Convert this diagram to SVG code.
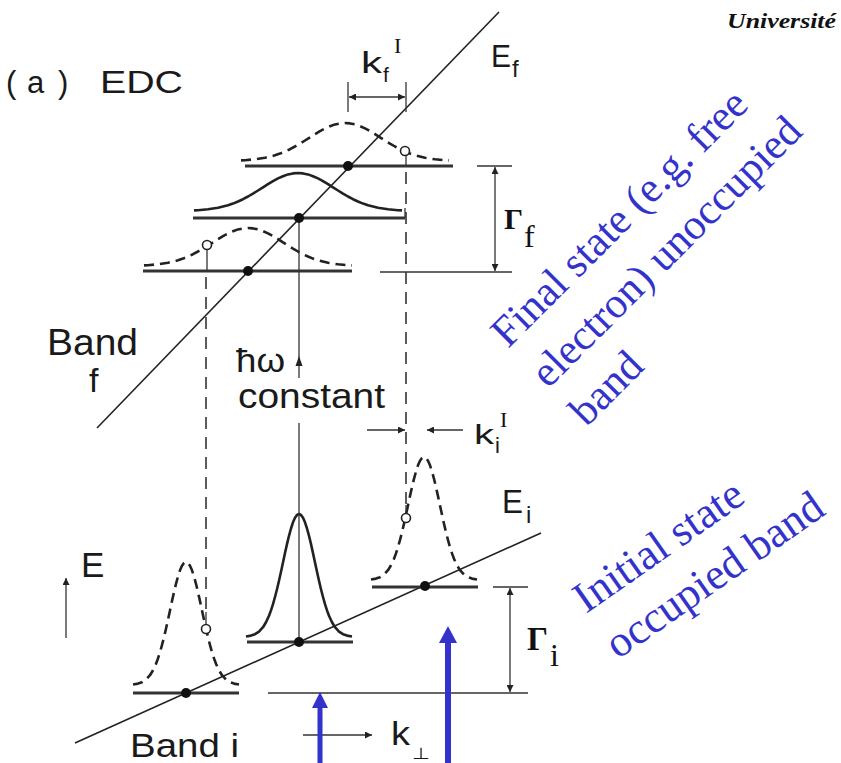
<svg xmlns="http://www.w3.org/2000/svg" width="841" height="763" viewBox="0 0 841 763">
<style>
.ln{stroke:#222;stroke-width:1.6;fill:none}
.thin{stroke:#333;stroke-width:1.3;fill:none}
.base{stroke:#333;stroke-width:3;fill:none}
.dash{stroke:#333;stroke-width:1.6;fill:none;stroke-dasharray:12 8}
.curve{stroke:#222;stroke-width:2.6;fill:none;stroke-linejoin:round}
.dc{stroke-dasharray:10 6}
.dot{fill:#111}
.hol{fill:#fff;stroke:#222;stroke-width:1.6}
.sans{font-family:"Liberation Sans",Arial,sans-serif;fill:#1a1a1a}
.serif{font-family:"Liberation Serif","Times New Roman",serif;fill:#111}
.blue{font-family:"Liberation Serif","Times New Roman",serif;fill:#3333cc}
.barrow{fill:#3333cc}
</style>
<defs>
<marker id="ah" viewBox="0 0 10 10" refX="10" refY="5" markerWidth="9" markerHeight="7" markerUnits="userSpaceOnUse" orient="auto-start-reverse">
<path d="M0,0 L10,5 L0,10 z" fill="#222"/>
</marker>
<path id="broad" d="M-104,-0.6 L-100,-0.8 L-90,-1.7 L-80,-3.2 L-70,-5.7 L-65,-7.4 L-60,-9.5 L-55,-11.8 L-50,-14.5 L-45,-17.4 L-40,-20.5 L-35,-23.7 L-30,-26.9 L-25,-29.9 L-20,-32.6 L-15,-34.8 L-10,-36.6 L-5,-37.6 L0,-38 L5,-37.6 L10,-36.6 L15,-34.8 L20,-32.6 L25,-29.9 L30,-26.9 L35,-23.7 L40,-20.5 L45,-17.4 L50,-14.5 L55,-11.8 L60,-9.5 L65,-7.4 L70,-5.7 L80,-3.2 L90,-1.7 L100,-0.8 L104,-0.6"/>
<path id="narrow" d="M-53,-0.5 L-48,-1.4 L-44,-2.8 L-40,-5.4 L-36,-9.8 L-33,-14.7 L-30,-21.2 L-28,-26.6 L-26,-32.8 L-24,-40 L-22,-47.8 L-20,-56.3 L-18,-65.3 L-16,-74.6 L-14,-83.9 L-12,-92.9 L-10,-101.2 L-8,-108.5 L-6,-114.7 L-4,-119.2 L-2,-122 L0,-123 L2,-122 L4,-119.2 L6,-114.7 L8,-108.5 L10,-101.2 L12,-92.9 L14,-83.9 L16,-74.6 L18,-65.3 L20,-56.3 L22,-47.8 L24,-40 L26,-32.8 L28,-26.6 L30,-21.2 L33,-14.7 L36,-9.8 L40,-5.4 L44,-2.8 L48,-1.4 L53,-0.5"/>
</defs>
<rect width="841" height="763" fill="#fff"/>

<g id="title">
<text class="sans" font-size="31" y="93"><tspan x="6">(</tspan><tspan x="27">a</tspan><tspan x="58">)</tspan><tspan x="100" textLength="83" lengthAdjust="spacingAndGlyphs">EDC</tspan></text>
</g>
<text class="serif" x="727" y="28" font-size="22" font-style="italic" font-weight="bold" textLength="109" lengthAdjust="spacingAndGlyphs">Université</text>

<g id="band-f">
<line class="ln" x1="97" y1="428" x2="499" y2="12"/>
<text class="sans" font-size="36" x="47" y="355" textLength="91" lengthAdjust="spacingAndGlyphs">Band</text>
<text class="sans" font-size="34" x="89" y="392">f</text>
<text class="sans" font-size="31" x="491" y="67" textLength="20" lengthAdjust="spacingAndGlyphs">E</text>
<text class="sans" font-size="24" x="512" y="77">f</text>
</g>

<g id="band-i">
<line class="ln" x1="75" y1="743" x2="541" y2="533"/>
<text class="sans" font-size="34" x="130" y="757" textLength="109" lengthAdjust="spacingAndGlyphs">Band i</text>
<text class="sans" font-size="34" x="502" y="513" textLength="21" lengthAdjust="spacingAndGlyphs">E</text>
<text class="sans" font-size="24" x="526" y="523">i</text>
</g>

<g id="final-peaks">
<line class="base" x1="245" y1="166" x2="453" y2="166"/>
<use href="#broad" class="curve dc" transform="translate(345,161)"/>
<line class="base" x1="193" y1="218" x2="405" y2="218"/>
<use href="#broad" class="curve" transform="translate(298,211)"/>
<line class="base" x1="143" y1="271" x2="352" y2="271"/>
<use href="#broad" class="curve dc" transform="translate(248,266)"/>
</g>

<g id="initial-peaks">
<line class="base" x1="133" y1="693" x2="239" y2="693"/>
<use href="#narrow" class="curve dc" transform="translate(186,685)"/>
<line class="base" x1="247" y1="642" x2="353" y2="642"/>
<use href="#narrow" class="curve" transform="translate(299,637)"/>
<line class="base" x1="372" y1="587" x2="478" y2="587"/>
<use href="#narrow" class="curve dc" transform="translate(424,580)"/>
</g>

<g id="connectors">
<line class="thin" x1="406" y1="82" x2="406" y2="112"/>
<line class="thin" x1="406" y1="155" x2="406" y2="166"/>
<line class="thin" x1="405" y1="208" x2="405" y2="218"/>
<line class="dash" x1="406" y1="172" x2="406" y2="505"/>
<line class="thin" x1="406" y1="505" x2="406" y2="514"/>
<line class="thin" x1="207" y1="249" x2="207" y2="271"/>
<line class="dash" x1="206" y1="277" x2="206" y2="612"/>
<line class="thin" x1="206" y1="612" x2="206" y2="625"/>
<line class="thin" x1="299" y1="218" x2="299" y2="378"/>
<path d="M299,356 L295.5,366 L302.5,366 z" fill="#222"/>
<line class="thin" x1="299" y1="423" x2="299" y2="642"/>
<line class="thin" x1="348" y1="82" x2="348" y2="112"/>
<line class="thin" x1="349" y1="97" x2="405" y2="97" marker-start="url(#ah)" marker-end="url(#ah)"/>
<line class="thin" x1="367" y1="430" x2="405" y2="430" marker-end="url(#ah)"/>
<line class="thin" x1="463" y1="430" x2="427" y2="430" marker-end="url(#ah)"/>
<line class="thin" x1="477" y1="166" x2="512" y2="166"/>
<line class="thin" x1="380" y1="272" x2="512" y2="272"/>
<line class="thin" x1="495" y1="167" x2="495" y2="271" marker-start="url(#ah)" marker-end="url(#ah)"/>
<line class="thin" x1="493" y1="587" x2="528" y2="587"/>
<line class="thin" x1="268" y1="693" x2="528" y2="693"/>
<line class="thin" x1="510" y1="588" x2="510" y2="692" marker-start="url(#ah)" marker-end="url(#ah)"/>
<line class="thin" x1="66" y1="638" x2="66" y2="578" marker-end="url(#ah)"/>
<line class="thin" x1="303" y1="735" x2="372" y2="735" marker-end="url(#ah)"/>
</g>

<g id="points">
<circle class="dot" cx="348" cy="166" r="5"/>
<circle class="dot" cx="299" cy="218" r="5"/>
<circle class="dot" cx="248" cy="271" r="5"/>
<circle class="dot" cx="186" cy="693" r="5"/>
<circle class="dot" cx="299" cy="642" r="5"/>
<circle class="dot" cx="425" cy="586" r="5"/>
<circle class="hol" cx="405" cy="151" r="4.5"/>
<circle class="hol" cx="207" cy="245" r="4.5"/>
<circle class="hol" cx="206" cy="629" r="4.5"/>
<circle class="hol" cx="406" cy="518" r="4.5"/>
</g>

<g id="labels">
<text class="sans" font-size="30" x="361" y="73" textLength="21" lengthAdjust="spacingAndGlyphs">k</text>
<text class="sans" font-size="21" x="383" y="82">f</text>
<text class="serif" font-size="22" x="394" y="53">I</text>
<text class="sans" font-size="28" x="474" y="444" textLength="20" lengthAdjust="spacingAndGlyphs">k</text>
<text class="sans" font-size="22" x="495" y="453">i</text>
<text class="serif" font-size="22" x="500" y="427">I</text>
<text class="serif" font-size="30" x="504" y="229" font-weight="bold">Γ</text>
<text class="serif" font-size="32" x="524" y="247">f</text>
<text class="serif" font-size="33" x="527" y="650" font-weight="bold">Γ</text>
<text class="serif" font-size="32" x="550" y="666">i</text>
<text class="sans" font-size="34" x="236" y="372" textLength="49" lengthAdjust="spacingAndGlyphs">ħω</text>
<text class="sans" font-size="35" x="238" y="408" textLength="147" lengthAdjust="spacingAndGlyphs">constant</text>
<text class="sans" font-size="35" x="81" y="577">E</text>
<text class="sans" font-size="34" x="391" y="745" textLength="19" lengthAdjust="spacingAndGlyphs">k</text>
<text class="sans" font-size="16" x="412" y="759" textLength="18" lengthAdjust="spacingAndGlyphs">⊥</text>
</g>

<g id="blue-arrows">
<rect class="barrow" x="317.5" y="706" width="5" height="57"/>
<path class="barrow" d="M320,692 L328,708 L312,708 z"/>
<rect class="barrow" x="445" y="641" width="6" height="122"/>
<path class="barrow" d="M448,626 L457,643 L439,643 z"/>
</g>

<g id="final-note" transform="translate(508,349) rotate(-45)">
<text class="blue" font-size="43" x="0" y="0">Final state (e.g. free</text>
<text class="blue" font-size="43" x="0" y="57">electron) unoccupied</text>
<text class="blue" font-size="43" x="0" y="111">band</text>
</g>
<g id="initial-note" transform="translate(586,614) rotate(-35)">
<text class="blue" font-size="44" x="0" y="0">Initial state</text>
<text class="blue" font-size="44" x="0" y="56">occupied band</text>
</g>
</svg>
